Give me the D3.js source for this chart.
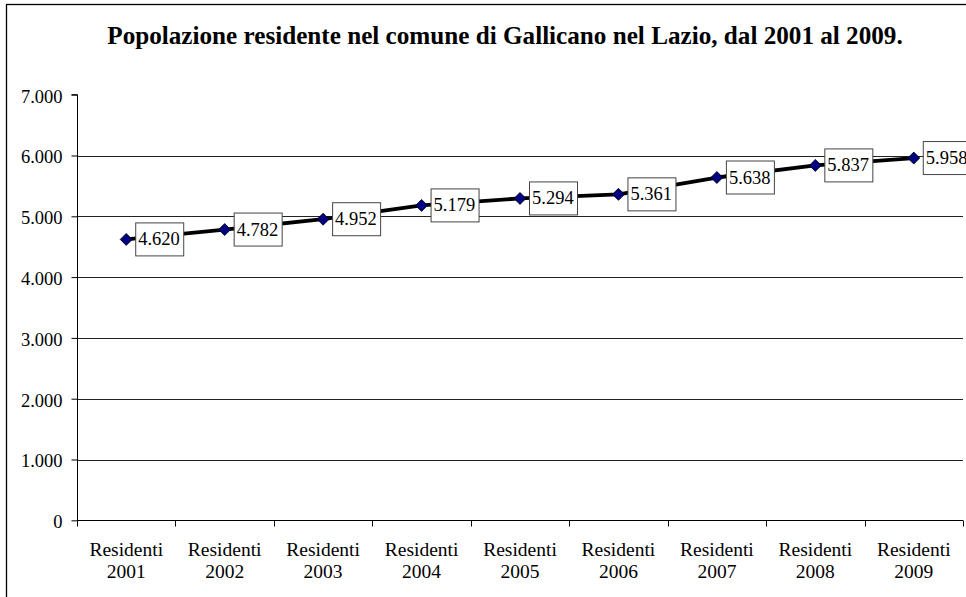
<!DOCTYPE html>
<html>
<head>
<meta charset="utf-8">
<script src="https://cdn.jsdelivr.net/npm/d3@7"></script>
<style>
  html, body { margin: 0; padding: 0; background: #fff; }
  svg { display: block; }
  text { font-family: "Liberation Serif", "Times New Roman", serif; fill: #000; }
</style>
</head>
<body>
<svg id="chart" width="966" height="597"></svg>
<script>
const categories = ["Residenti 2001", "Residenti 2002", "Residenti 2003", "Residenti 2004", "Residenti 2005", "Residenti 2006", "Residenti 2007", "Residenti 2008", "Residenti 2009"];
const values = [4620, 4782, 4952, 5179, 5294, 5361, 5638, 5837, 5958];
const yTicks = [0, 1000, 2000, 3000, 4000, 5000, 6000, 7000];
const title = "Popolazione residente nel comune di Gallicano nel Lazio, dal 2001 al 2009.";

const FONT = "'Liberation Serif','Times New Roman',serif";
const svg = d3.select("#chart");
const plot = { left: 77, right: 963, top: 94.7, bottom: 520.3 };

const fmt = v => d3.format(",")(v).replace(/,/g, ".");

// outer frame
svg.append("rect").attr("x", 6.5).attr("y", 4.5).attr("width", 1100).attr("height", 700)
  .attr("fill", "none").attr("stroke", "#000").attr("stroke-width", 1.3);

const t = svg.append("text").attr("x", 505).attr("y", 43.5).attr("text-anchor", "middle")
  .style("font-family", FONT).style("font-size", "22px").style("font-weight", "bold").text(title);
// fit title to the reference width
const tw = t.node().getComputedTextLength();
t.style("font-size", (22 * 796 / tw).toFixed(2) + "px");

const x = d3.scaleBand().domain(categories).range([plot.left, plot.right]).padding(0);
const y = d3.scaleLinear().domain([0, 7000]).range([plot.bottom, plot.top]);

// gridlines
svg.append("g").selectAll("line").data(yTicks.filter(t => t > 0 && t < 7000)).join("line")
  .attr("x1", plot.left).attr("x2", plot.right)
  .attr("y1", d => Math.round(y(d)) + 0.5).attr("y2", d => Math.round(y(d)) + 0.5)
  .attr("stroke", "#222").attr("stroke-width", 1);

// y axis
const yAxis = svg.append("g").attr("transform", `translate(${plot.left + 0.5},0)`)
  .call(d3.axisLeft(y).tickValues(yTicks).tickFormat(fmt).tickSize(6).tickPadding(9));
yAxis.select(".domain").attr("stroke", "#000").attr("d", `M-6,${y(7000)}H0V${y(0)}`);
yAxis.selectAll(".tick line").attr("stroke", "#000");
yAxis.selectAll(".tick text").style("font-size", "18.5px").style("font-family", FONT)
  .attr("dy", "0.4em").attr("fill", "#000");

// x axis
const xAxis = svg.append("g").attr("transform", `translate(0,${Math.round(plot.bottom) + 0.5})`);
xAxis.append("line").attr("x1", plot.left).attr("x2", plot.right).attr("stroke", "#000");
const bounds = categories.map(c => x(c)).concat([plot.right]);
xAxis.selectAll("line.tk").data(bounds).join("line").attr("class", "tk")
  .attr("x1", d => Math.round(d) + 0.5).attr("x2", d => Math.round(d) + 0.5)
  .attr("y1", 0).attr("y2", 6).attr("stroke", "#000");
const xl = xAxis.selectAll("text.xl").data(categories).join("text").attr("class", "xl")
  .attr("text-anchor", "middle").style("font-size", "19.5px").style("font-family", FONT)
  .attr("transform", d => `translate(${x(d) + x.bandwidth() / 2},0)`);
xl.append("tspan").attr("x", 0).attr("y", 35).text(d => d.split(" ")[0]);
xl.append("tspan").attr("x", 0).attr("y", 57).text(d => d.split(" ")[1]);

// line
const cx = (d, i) => x(categories[i]) + x.bandwidth() / 2;
const line = d3.line().x((d, i) => cx(d, i)).y(d => y(d));
svg.append("path").datum(values).attr("d", line).attr("fill", "none")
  .attr("stroke", "#000").attr("stroke-width", 3.8).attr("stroke-linejoin", "round");

// markers
svg.append("g").selectAll("path").data(values).join("path")
  .attr("transform", (d, i) => `translate(${cx(d, i)},${y(d)})`)
  .attr("d", "M0,-6L6,0L0,6L-6,0Z").attr("fill", "#000080").attr("stroke", "#000").attr("stroke-width", 0.8);

// data labels
const lab = svg.append("g").selectAll("g").data(values).join("g")
  .attr("transform", (d, i) => `translate(${cx(d, i) + 9},${y(d)})`);
lab.append("rect").attr("x", 0.5).attr("y", -16.5).attr("width", 48).attr("height", 33)
  .attr("fill", "#fff").attr("stroke", "#444").attr("stroke-width", 1);
lab.append("text").attr("x", 3).attr("y", 6).style("font-size", "18.5px").style("font-family", FONT).text(d => fmt(d));
</script>
</body>
</html>
